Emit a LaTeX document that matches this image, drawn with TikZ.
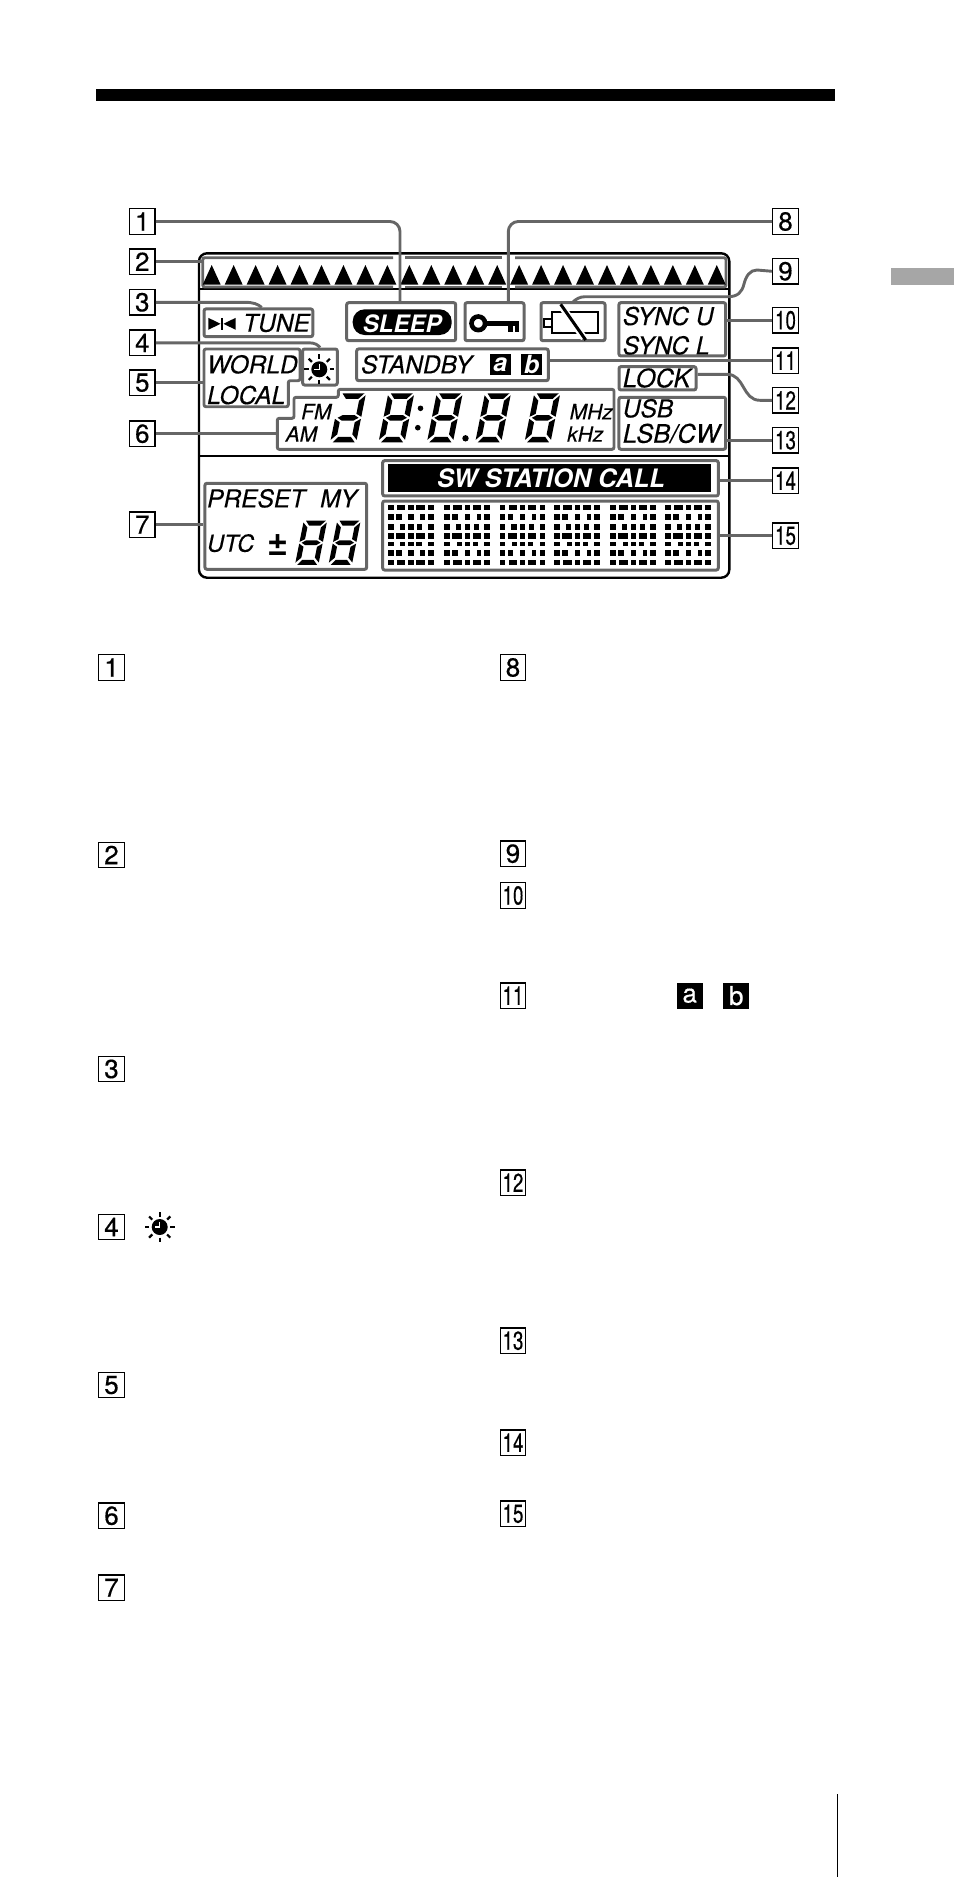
\documentclass[tikz,border=0pt]{standalone}
\usepackage{fontspec}
\setmainfont{TeX Gyre Heros}
\usetikzlibrary{positioning, calc}
\definecolor{lcdgray}{HTML}{666666}
\definecolor{tabgray}{HTML}{A6A6A6}
\newcommand{\heavy}{\addfontfeature{FakeBold=0.35}}
\tikzset{
  numbox/.style={draw=black, line width=1.4pt, fill=white, minimum size=25.5pt, inner sep=0pt, font=\fontsize{26}{26}\selectfont\heavy},
  lcdbox/.style={draw=lcdgray, line width=3pt, rounded corners=2pt, inner sep=0pt},
  lcdline/.style={draw=lcdgray, line width=2.9pt},
  callout/.style={draw=lcdgray, line width=2.9pt, rounded corners=10pt},
  lcdtxt/.style={anchor=base west, inner sep=0pt, font=\fontsize{24.5}{24}\selectfont\itshape\heavy},
  lcdsmall/.style={anchor=base west, inner sep=0pt, font=\fontsize{21}{21}\selectfont\itshape\heavy},
  lcdinv/.style={anchor=base west, inner sep=0pt, text=white, font=\fontsize{24}{24}\selectfont\bfseries\itshape},
  invbox/.style={fill=black, text=white, minimum size=21pt, inner sep=0pt, font=\fontsize{25}{25}\selectfont\bfseries\itshape}
}
\newcommand{\twodig}[1]{\scalebox{0.72}[1]{#1}}
% seven segment digit, top left corner at #1,#2
\newcommand{\lcdcore}{
  \fill (2.5,0) -- (24.5,0) -- (19.5,5.5) -- (7,5.5) -- cycle;
  \fill (26,2) -- (20.5,7.5) -- (20.5,20.5) -- (26,23.5) -- cycle;
  \fill (2.5,24.5) -- (7,21.8) -- (19,21.8) -- (23.5,24.5) -- (19,27.2) -- (7,27.2) -- cycle;
  \fill (0,25.5) -- (5.5,29) -- (5.5,41) -- (0,46.5) -- cycle;
  \fill (26,25.5) -- (20.5,29) -- (20.5,41) -- (26,46.5) -- cycle;
  \fill (2.5,49) -- (24.5,49) -- (19.5,43.5) -- (7,43.5) -- cycle;
}
\newcommand{\lcdeight}[3]{
  \begin{scope}[shift={(#1,#2)}, xslant=0.2, scale=#3]
    \lcdcore
    \fill (0,2) -- (5.5,7.5) -- (5.5,20.5) -- (0,23.5) -- cycle;
  \end{scope}
}
\newcommand{\sunicon}[2]{
  \begin{scope}[shift={(#1,#2)}]
    \fill (0,0) circle (8);
    \draw[white, line width=1.4pt] (0,-5.5) -- (0,0) -- (-5,0);
    \foreach \a in {0,45,...,315} {
      \draw[line width=2.2pt] (\a:10.5) -- (\a:15);
    }
  \end{scope}
}
\begin{document}
\begin{tikzpicture}[x=1pt, y=-1pt]
  \useasboundingbox (0,0) rectangle (954,1877);

  % page furniture
  \fill[black] (95.8,88.6) rectangle (834.5,100.5);
  \fill[tabgray] (890.6,268) rectangle (954,285);
  \draw[line width=1.8pt] (837.4,1794) -- (837.4,1877);

  % display frame
  \draw[line width=2.4pt, rounded corners=8pt] (199,253.3) rectangle (729.3,577.7);
  \draw[line width=2.6pt] (199,289) -- (729.3,289);
  \draw[line width=2.6pt] (199,456) -- (729.3,456);

  % level bar
  \coordinate (barleft) at (202.7,261.7);
  \draw[lcdline, rounded corners=2pt] (393,257.7) -- (202.7,257.7) -- (202.7,287) -- (393,287);
  \draw[lcdline] (405,257.7) -- (501.7,257.7);
  \draw[lcdline] (405,287) -- (501.7,287);
  \draw[lcdline, rounded corners=2pt] (515,257.7) -- (726,257.7) -- (726,287) -- (515,287);
  \foreach \i in {0,...,23} {
    \fill ({211.7+21.96*\i},265) -- ({220.7+21.96*\i},284.7) -- ({202.7+21.96*\i},284.7) -- cycle;
  }

  % segment boxes
  \node[lcdbox, minimum width=108.7pt, minimum height=27.7pt] (tunebox) at (258.4,322.8) {};
  \node[lcdbox, minimum width=109pt, minimum height=38pt] (sleepbox) at (401.2,321.7) {};
  \node[lcdbox, minimum width=59pt, minimum height=38pt] (keybox) at (494.5,321.7) {};
  \node[lcdbox, minimum width=64pt, minimum height=38pt] (battbox) at (573,321.7) {};
  \node[lcdbox, minimum width=106.7pt, minimum height=53.3pt] (syncbox) at (672.3,329.3) {};
  \node[lcdbox, minimum width=34.6pt, minimum height=36pt] (sunbox) at (320,367) {};
  \node[lcdbox, minimum width=191.6pt, minimum height=31.7pt] (standbox) at (452.5,364.8) {};
  \node[lcdbox, minimum width=77pt, minimum height=23.3pt] (lockbox) at (657.5,378.3) {};
  \node[lcdbox, minimum width=106.7pt, minimum height=52pt] (usbbox) at (672.3,423.3) {};
  \node[lcdbox, minimum width=161.7pt, minimum height=86pt] (presetbox) at (285.8,526.3) {};
  \node[lcdbox, minimum width=335.6pt, minimum height=35.3pt] (swbox) at (550.5,478.3) {};
  \node[lcdbox, minimum width=335.6pt, minimum height=69pt] (dotbox) at (550.5,535.5) {};
  \draw[lcdline, rounded corners=2pt] (204,349) -- (300,349) -- (300,380.7) -- (288.3,380.7) -- (288.3,406.7) -- (204,406.7) -- cycle;
  \draw[lcdline, rounded corners=2pt] (277.3,449.3) -- (277.3,418.3) -- (294,418.3) -- (294,397.3) -- (338.3,397.3) -- (338.3,389.3) -- (614,389.3) -- (614,449.3) -- cycle;
  \coordinate (worldleft) at (204,382.7);
  \coordinate (freqleft) at (277.3,433.7);

  % number tags at the display
  \node[numbox] (n1) at (142.3,221.5) {1};
  \node[numbox] (n2) at (142.3,261.7) {2};
  \node[numbox] (n3) at (142.3,302.3) {3};
  \node[numbox] (n4) at (142.3,342.8) {4};
  \node[numbox] (n5) at (142.3,382.7) {5};
  \node[numbox] (n6) at (142.3,433.7) {6};
  \node[numbox] (n7) at (142.3,524.7) {7};
  \node[numbox] (n8) at (785.5,221.5) {8};
  \node[numbox] (n9) at (785.5,271.3) {9};
  \node[numbox] (n10) at (785.5,320.3) {\twodig{10}};
  \node[numbox] (n11) at (785.5,360.7) {\twodig{11}};
  \node[numbox] (n12) at (785.5,400.3) {\twodig{12}};
  \node[numbox] (n13) at (785.5,440.3) {\twodig{13}};
  \node[numbox] (n14) at (785.5,480.7) {\twodig{14}};
  \node[numbox] (n15) at (785.5,535.7) {\twodig{15}};

  % connectors
  \draw[callout] (n1.east) -| ([xshift=-1.2pt]sleepbox.north);
  \draw[callout] (n2.east) -- (barleft);
  \draw[lcdline] (n3.east) -- (245,302.3) .. controls (253,302.3) and (258,304) .. ([xshift=3.3pt]tunebox.north);
  \draw[lcdline] (n4.east) -- (309,342.8) .. controls (315,342.8) and (318,345) .. (sunbox.north);
  \draw[callout] (n5.east) -- (worldleft);
  \draw[callout] (n6.east) -- (freqleft);
  \draw[callout] (n7.east) -- (presetbox.west |- n7.east);
  \draw[callout] (n8.west) -| ([xshift=13.8pt]keybox.north);
  \draw[lcdline] (n9.west) -- (757,270) .. controls (750,270) and (746,276) .. (744,284) .. controls (742,292) and (738,296.7) .. (728,296.7) -- (585,296.7) .. controls (580,296.7) and (576,299) .. (573,302);
  \draw[callout] (syncbox.east |- n10.west) -- (n10.west);
  \draw[callout] (standbox.east |- n11.west) -- (n11.west);
  \draw[lcdline] ([yshift=4pt]lockbox.east) -- (727,374.3) .. controls (745,374.3) and (742,400.3) .. (760,400.3) -- (n12.west);
  \draw[callout] (usbbox.east |- n13.west) -- (n13.west);
  \draw[callout] (swbox.east |- n14.west) -- (n14.west);
  \draw[callout] (dotbox.east |- n15.west) -- (n15.west);

  % tune row
  \fill (208.3,317.8) -- (208.3,329.8) -- (220.5,323.8) -- cycle;
  \fill (235.7,317.8) -- (235.7,329.8) -- (223.5,323.8) -- cycle;
  \draw[line width=1.4pt] (222,317.8) -- (222,329.8);
  \node[lcdtxt] (tunetxt) at (243,331.7) {TUNE};
  \fill[rounded corners=12pt] (352.7,309.3) rectangle (451.7,335);
  \node[lcdinv] (sleeptxt) at (362.7,332.2) {SLEEP};

  % key
  \draw[line width=4.6pt] (478.3,323.3) circle (6.8);
  \fill (486.7,321) rectangle (519.3,325.7);
  \fill (508.3,325) rectangle (512.7,332);
  \fill (515,325) rectangle (519.3,332);

  % battery
  \draw[line width=1.8pt] (551.7,311.7) rectangle (598.3,333.3);
  \draw[line width=1.8pt] (551.7,319) -- (544.3,319) -- (544.3,326.7) -- (551.7,326.7);
  \draw[white, line width=7pt] (562,307) -- (584,338);
  \draw[line width=3pt] (560.7,304.3) -- (585.7,340);

  % texts in the upper part
  \node[lcdtxt] (synctxtu) at (622.7,325) {SYNC U};
  \node[lcdtxt] (synctxtl) at (622.7,354.3) {SYNC L};
  \node[lcdtxt] (worldtxt) at (207,373.3) {WORLD};
  \node[lcdtxt] (localtxt) at (207,404) {LOCAL};
  \sunicon{319.3}{369.3}
  \node[lcdtxt] (standtxt) at (361,373.3) {STANDBY};
  \node[invbox] (sqa) at (500.2,364.7) {a};
  \node[invbox] (sqb) at (531.8,364.7) {b};
  \node[lcdtxt, font=\fontsize{25.5}{25}\selectfont\itshape\heavy] (locktxt) at (622.7,387.3) {LOCK};
  \node[lcdtxt] (usbtxt) at (622.7,417.3) {USB};
  \node[lcdtxt, font=\fontsize{25.5}{25}\selectfont\itshape\heavy] (lsbtxt) at (622.7,442.7) {LSB/CW};
  \node[lcdsmall] (fmtxt) at (301,419.3) {FM};
  \node[lcdsmall] (amtxt) at (285.5,441.7) {AM};
  \node[lcdsmall] (mhztxt) at (569.5,419.3) {MHz};
  \node[lcdsmall] (khztxt) at (567,441.7) {kHz};

  % main digits
  \begin{scope}[shift={(340,393.3)}, xslant=0.2]
    \lcdcore
  \end{scope}
  \lcdeight{388.3}{393.3}{1}
  \lcdeight{436.7}{393.3}{1}
  \lcdeight{485}{393.3}{1}
  \lcdeight{534.3}{393.3}{1}
  \fill (420.5,408.3) circle (2.8);
  \fill (417.8,427.7) circle (2.8);
  \fill (465.5,438.3) circle (3.2);

  % preset part
  \node[lcdtxt] (presettxt) at (207,507.3) {PRESET\hspace{15pt}MY};
  \node[lcdtxt, font=\fontsize{23.5}{24}\selectfont\itshape\heavy] (utctxt) at (207,551.7) {UTC};
  \node[anchor=center, inner sep=0pt, font=\fontsize{36}{36}\selectfont\bfseries] (pmtxt) at (277.6,545.5) {±};
  \lcdeight{303.8}{520.7}{0.9}
  \lcdeight{337.3}{520.7}{0.9}

  % station call
  \fill (387.7,464.3) rectangle (710.7,492.3);
  \node[lcdinv, font=\fontsize{25.4}{25}\selectfont\bfseries\itshape] (swtxt) at (437,487.3) {SW STATION CALL};

  % dot matrix
  \foreach \bx in {387.7,444,499.3,554,610,665} {
    \foreach \ya/\yb/\ba/\bb/\da/\db in {504.9/510.4/9.4/17.6/28.7/36.9, 513.9/520/8.3/14/32.6/37, 523.9/530/11.9/17.3/29.6/34.7, 533.2/538.8/8.3/17.6/28.7/36.9, 541.9/546.1/12.6/17.7/28.6/34, 549.9/556/8.3/14/32.6/37, 559.9/565.1/9.4/17.6/28.7/36.9} {
      \fill ({\bx+0.2},\ya) rectangle ({\bx+6},\yb);
      \fill ({\bx+\ba},\ya) rectangle ({\bx+\bb},\yb);
      \fill ({\bx+20.6},\ya) rectangle ({\bx+26},\yb);
      \fill ({\bx+\da},\ya) rectangle ({\bx+\db},\yb);
      \fill ({\bx+40.2},\ya) rectangle ({\bx+45.8},\yb);
    }
  }

  % number tags of the list
  \node[numbox] (l1) at (111.5,667.5) {1};
  \node[numbox] (l2) at (111.5,855) {2};
  \node[numbox] (l3) at (111.5,1069) {3};
  \node[numbox] (l4) at (111.5,1227) {4};
  \node[numbox] (l5) at (111.5,1385) {5};
  \node[numbox] (l6) at (111.5,1515.7) {6};
  \node[numbox] (l7) at (111.5,1587.7) {7};
  \node[numbox] (l8) at (513,667.5) {8};
  \node[numbox] (l9) at (513,853.7) {9};
  \node[numbox] (l10) at (513,895.5) {\twodig{10}};
  \node[numbox] (l11) at (513,995.7) {\twodig{11}};
  \node[numbox] (l12) at (513,1182.7) {\twodig{12}};
  \node[numbox] (l13) at (513,1340.7) {\twodig{13}};
  \node[numbox] (l14) at (513,1442.7) {\twodig{14}};
  \node[numbox] (l15) at (513,1513.7) {\twodig{15}};
  \sunicon{159.7}{1227}
  \node[fill=black, text=white, minimum size=26pt, inner sep=0pt, font=\fontsize{26}{26}\selectfont\heavy] (lista) at (689.7,995.7) {a};
  \node[fill=black, text=white, minimum size=26pt, inner sep=0pt, font=\fontsize{26}{26}\selectfont\heavy] (listb) at (736.3,995.7) {b};
\end{tikzpicture}
\end{document}
